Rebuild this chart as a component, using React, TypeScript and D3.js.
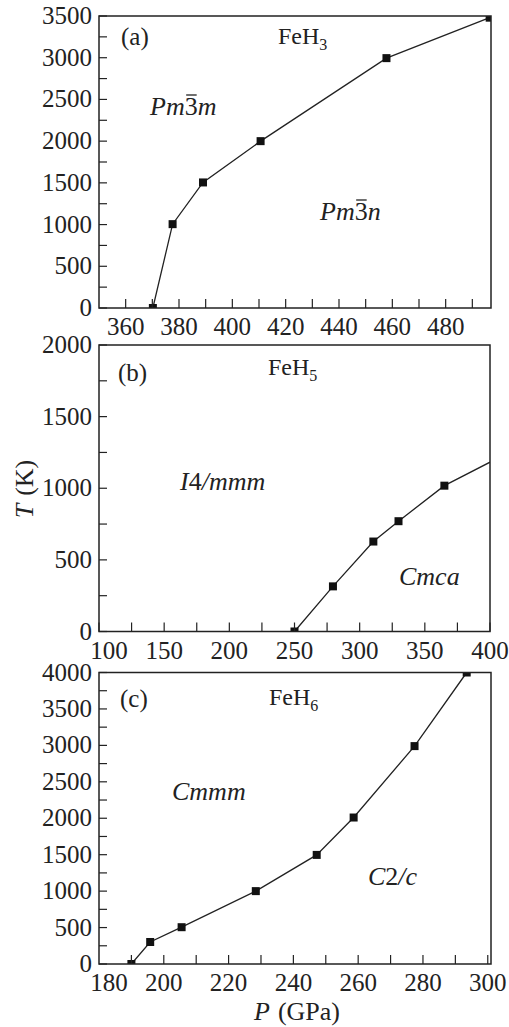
import React, { useRef, useLayoutEffect, useState } from 'react';
import { scaleLinear, line, range } from 'd3';

// FeH3 boundary Pm-3m / Pm-3n
const feh3P = [370.2, 377.6, 389, 410.6, 457.8, 496.5];
const feh3T = [0, 1005, 1505, 2000, 2995, 3480];
// FeH5 boundary I4/mmm / Cmca (line runs on to 400 GPa)
const feh5P = [250, 279.5, 310.5, 329.8, 365, 400];
const feh5T = [0, 315, 628, 770, 1018, 1182];
const feh5Marked = [true, true, true, true, true, false];
// FeH6 boundary Cmmm / C2/c
const feh6P = [190, 195.8, 205.5, 228.4, 247.2, 258.6, 277.4, 293.5];
const feh6T = [0, 302, 505, 1000, 1497, 2010, 2990, 4000];

const aTicksX = range(360, 481, 20);
const aMinorX = range(360, 491, 10);
const aTicksY = range(0, 3501, 500);
const aMinorY = range(0, 3501, 250);
const bTicksX = range(100, 401, 50);
const bMinorX = range(100, 401, 25);
const bTicksY = range(0, 2001, 500);
const bMinorY = range(0, 2001, 250);
const cTicksX = range(180, 301, 20);
const cMinorX = range(190, 301, 10);
const cTicksY = range(0, 4001, 500);
const cMinorY = range(0, 4001, 250);

const FONT = 'Liberation Serif, Times New Roman, serif';
const INK = '#222';

type PanelProps = {
  id: string;
  x: any;
  y: any;
  P: number[];
  T: number[];
  marked?: boolean[];
  ticksX: number[];
  minorX: number[];
  ticksY: number[];
  minorY: number[];
  firstShift?: number;
  children?: React.ReactNode;
};

function Panel({ id, x, y, P, T, marked, ticksX, minorX, ticksY, minorY, firstShift = 0, children }: PanelProps) {
  const [x0, x1] = x.range();
  const [y0, y1] = y.range();
  const pts = P.map((p, i) => [x(p), y(T[i])] as [number, number]);
  const path = line()(pts) || '';
  return (
    <g>
      <defs>
        <clipPath id={'clip-' + id}>
          <rect x={x0} y={y1} width={x1 - x0} height={y0 - y1} />
        </clipPath>
      </defs>
      <g clipPath={`url(#clip-${id})`}>
        <path d={path} fill="none" stroke={INK} strokeWidth={1.3} />
        {pts.map((d, i) =>
          marked && !marked[i] ? null : (
            <rect key={i} x={d[0] - 4} y={d[1] - 4} width={8} height={8} fill="#111" />
          )
        )}
      </g>
      {minorX.map((v) => (
        <line key={'mx' + v} x1={x(v)} x2={x(v)} y1={y0} y2={y0 - 9} stroke={INK} strokeWidth={1.2} />
      ))}
      {minorY.map((v) => (
        <line key={'my' + v} x1={x0} x2={x0 + 8} y1={y(v)} y2={y(v)} stroke={INK} strokeWidth={1.2} />
      ))}
      <rect x={x0} y={y1} width={x1 - x0} height={y0 - y1} fill="none" stroke={INK} strokeWidth={1.5} />
      {ticksX.map((v, i) => (
        <text key={'tx' + v} x={x(v) + (i === 0 ? firstShift : 0)} y={y0 + 27} textAnchor="middle" fontSize={25} fill={INK}>
          {v}
        </text>
      ))}
      {ticksY.map((v) => (
        <text key={'ty' + v} x={x0 - 7} y={y(v) + 8} textAnchor="end" fontSize={25} fill={INK}>
          {v}
        </text>
      ))}
      {children}
    </g>
  );
}

// space group symbol with a bar over the "3"
function SpaceGroup({ x, y, pre, post }: { x: number; y: number; pre: string; post: string }) {
  const ref = useRef<SVGTextElement>(null);
  const [bar, setBar] = useState<[number, number] | null>(null);
  useLayoutEffect(() => {
    const el = ref.current;
    if (!el) return;
    try {
      const i = pre.length;
      const s = el.getStartPositionOfChar(i).x;
      const e = el.getEndPositionOfChar(i).x;
      setBar([s, e]);
    } catch (err) {
      setBar(null);
    }
  }, [pre, post, x, y]);
  return (
    <g>
      <text ref={ref} x={x} y={y} fontSize={26} fontStyle="italic" fill={INK}>
        {pre}
        <tspan fontStyle="normal">3</tspan>
        {post}
      </text>
      {bar && <line x1={bar[0] + 1.5} x2={bar[1] - 1} y1={y - 20} y2={y - 20} stroke={INK} strokeWidth={1.3} />}
    </g>
  );
}

export default function App() {
  const ax = scaleLinear().domain([350, 497]).range([99, 491]);
  const ay = scaleLinear().domain([0, 3500]).range([308, 16]);
  const bx = scaleLinear().domain([100, 400]).range([99, 490]);
  const by = scaleLinear().domain([0, 2000]).range([631.5, 345]);
  const cx = scaleLinear().domain([180, 301]).range([99, 491]);
  const cy = scaleLinear().domain([0, 4000]).range([964, 672.5]);

  return (
    <svg
      width={509}
      height={1027}
      style={{ position: 'absolute', left: 0, top: 0, background: '#fff' }}
      fontFamily={FONT}
    >
      <Panel id="a" x={ax} y={ay} P={feh3P} T={feh3T} ticksX={aTicksX} minorX={aMinorX} ticksY={aTicksY} minorY={aMinorY}>
        <text x={121} y={45} fontSize={25} fill={INK}>(a)</text>
        <text x={278} y={44} fontSize={24} fill={INK}>
          FeH<tspan fontSize={16} dy={6}>3</tspan>
        </text>
        <SpaceGroup x={150} y={115} pre="Pm" post="m" />
        <SpaceGroup x={320} y={220} pre="Pm" post="n" />
      </Panel>
      <Panel id="b" x={bx} y={by} P={feh5P} T={feh5T} marked={feh5Marked} ticksX={bTicksX} minorX={bMinorX} ticksY={bTicksY} minorY={bMinorY} firstShift={10}>
        <text x={118} y={381} fontSize={25} fill={INK}>(b)</text>
        <text x={268} y={375} fontSize={24} fill={INK}>
          FeH<tspan fontSize={16} dy={6}>5</tspan>
        </text>
        <text x={180} y={490} fontSize={26} fontStyle="italic" fill={INK}>
          I<tspan fontStyle="normal">4</tspan>/mmm
        </text>
        <text x={399} y={585} fontSize={26} fontStyle="italic" fill={INK}>Cmca</text>
      </Panel>
      <Panel id="c" x={cx} y={cy} P={feh6P} T={feh6T} ticksX={cTicksX} minorX={cMinorX} ticksY={cTicksY} minorY={cMinorY} firstShift={10}>
        <text x={120} y={707} fontSize={25} fill={INK}>(c)</text>
        <text x={269} y={705} fontSize={24} fill={INK}>
          FeH<tspan fontSize={16} dy={6}>6</tspan>
        </text>
        <text x={172} y={800} fontSize={26} fontStyle="italic" fill={INK}>Cmmm</text>
        <text x={368} y={885} fontSize={26} fontStyle="italic" fill={INK}>
          C<tspan fontStyle="normal">2</tspan>/c
        </text>
      </Panel>
      <text transform="translate(33,489) rotate(-90)" textAnchor="middle" fontSize={26} fill={INK}>
        <tspan fontStyle="italic">T</tspan>
        <tspan dx={8}>(K)</tspan>
      </text>
      <text x={297} y={1020} textAnchor="middle" fontSize={26} fill={INK}>
        <tspan fontStyle="italic">P</tspan>
        <tspan dx={8}>(GPa)</tspan>
      </text>
    </svg>
  );
}
